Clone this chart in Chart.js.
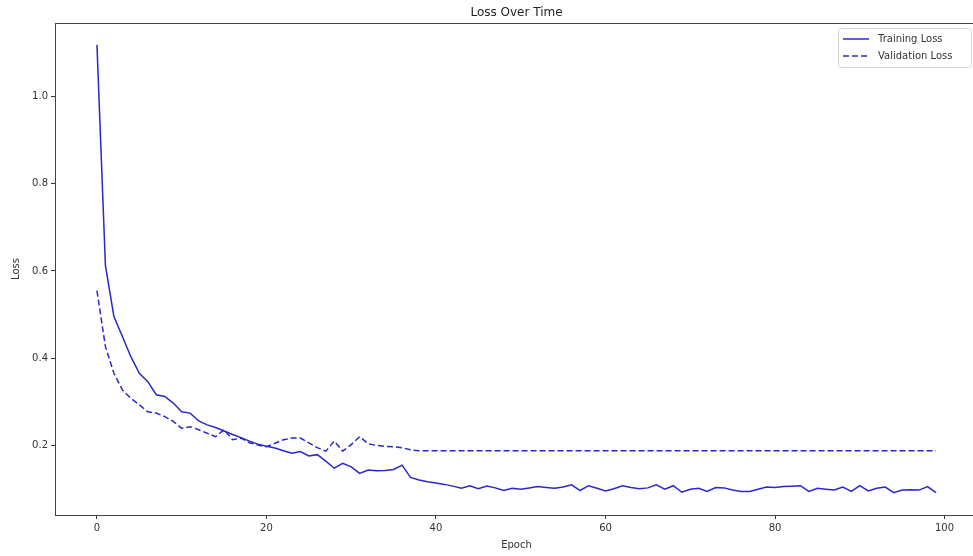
<!DOCTYPE html>
<html>
<head>
<meta charset="utf-8">
<script src="https://cdn.jsdelivr.net/npm/chart.js@4/dist/chart.umd.min.js"></script>
<style>
  html, body { margin: 0; padding: 0; background: #fff; overflow: hidden; }
  #wrap { width: 973px; height: 556px; overflow: hidden; }
</style>
</head>
<body>
<div id="wrap"><canvas id="chart" width="990" height="556"></canvas></div>
<script>
// values
const chartTitle = 'Loss Over Time';
const xTitle = 'Epoch';
const yTitle = 'Loss';
const seriesNames = ['Training Loss', 'Validation Loss'];

const trainLoss = [
  1.117, 0.612, 0.496, 0.450, 0.404, 0.366, 0.347, 0.317, 0.313, 0.298,
  0.278, 0.275, 0.257, 0.248, 0.242, 0.234, 0.226, 0.219, 0.211, 0.204,
  0.199, 0.195, 0.189, 0.183, 0.187, 0.177, 0.180, 0.165, 0.149, 0.160,
  0.152, 0.137, 0.145, 0.143, 0.144, 0.146, 0.156, 0.128, 0.122, 0.118,
  0.115, 0.112, 0.108, 0.103, 0.109, 0.102, 0.108, 0.104, 0.098, 0.103,
  0.101, 0.104, 0.107, 0.105, 0.103, 0.106, 0.111, 0.098, 0.109, 0.103,
  0.097, 0.102, 0.109, 0.105, 0.102, 0.104, 0.111, 0.101, 0.109, 0.094,
  0.101, 0.103, 0.096, 0.105, 0.104, 0.099, 0.096, 0.096, 0.101, 0.106,
  0.105, 0.107, 0.108, 0.109, 0.096, 0.103, 0.101, 0.099, 0.106, 0.096,
  0.109, 0.097, 0.103, 0.106, 0.093, 0.099, 0.100, 0.099, 0.107, 0.093
];

const valLoss = [
  0.555, 0.427, 0.366, 0.328, 0.309, 0.294, 0.278, 0.275, 0.267, 0.256,
  0.240, 0.244, 0.237, 0.229, 0.221, 0.237, 0.214, 0.218, 0.207, 0.202,
  0.198, 0.206, 0.214, 0.218, 0.218, 0.207, 0.196, 0.188, 0.211, 0.188,
  0.203, 0.221, 0.205, 0.201, 0.199, 0.198, 0.196, 0.191, 0.189, 0.189,
  0.189, 0.189, 0.189, 0.189, 0.189, 0.189, 0.189, 0.189, 0.189, 0.189,
  0.189, 0.189, 0.189, 0.189, 0.189, 0.189, 0.189, 0.189, 0.189, 0.189,
  0.189, 0.189, 0.189, 0.189, 0.189, 0.189, 0.189, 0.189, 0.189, 0.189,
  0.189, 0.189, 0.189, 0.189, 0.189, 0.189, 0.189, 0.189, 0.189, 0.189,
  0.189, 0.189, 0.189, 0.189, 0.189, 0.189, 0.189, 0.189, 0.189, 0.189,
  0.189, 0.189, 0.189, 0.189, 0.189, 0.189, 0.189, 0.189, 0.189, 0.189
];

const epochs = trainLoss.map((v, i) => i);

const lineColor = 'rgb(40, 40, 205)';
const textColor = '#333';
const font = "'DejaVu Sans', sans-serif";

function toPoints(values) {
  return values.map((v, i) => ({ x: epochs[i], y: v }));
}

// matplotlib style frame, title and legend
const mplLook = {
  id: 'mplLook',
  afterDraw(chart) {
    const ctx = chart.ctx;
    const a = chart.chartArea;
    ctx.save();
    ctx.strokeStyle = '#444';
    ctx.lineWidth = 1;
    ctx.strokeRect(a.left + 0.5, a.top + 0.5, a.right - a.left, a.bottom - a.top);

    ctx.fillStyle = '#222';
    ctx.font = '12px ' + font;
    ctx.textAlign = 'center';
    ctx.textBaseline = 'middle';
    ctx.fillText(chartTitle, (a.left + a.right) / 2, 13);

    // legend box, upper right inside the axes
    const bx = 838, by = 28, bw = 133, bh = 39;
    ctx.fillStyle = 'rgba(255,255,255,0.9)';
    ctx.strokeStyle = '#d4d4d4';
    ctx.beginPath();
    ctx.roundRect(bx + 0.5, by + 0.5, bw, bh, 3);
    ctx.fill();
    ctx.stroke();

    ctx.font = '10px ' + font;
    ctx.textAlign = 'left';
    chart.data.datasets.forEach((ds, i) => {
      const y = 39 + i * 17;
      ctx.strokeStyle = ds.borderColor;
      ctx.lineWidth = ds.borderWidth;
      ctx.setLineDash(ds.borderDash || []);
      ctx.beginPath();
      ctx.moveTo(843, y);
      ctx.lineTo(869, y);
      ctx.stroke();
      ctx.setLineDash([]);
      ctx.fillStyle = textColor;
      ctx.fillText(ds.label, 878, y);
    });
    ctx.restore();
  }
};

new Chart(document.getElementById('chart'), {
  type: 'line',
  data: {
    datasets: [
      {
        label: seriesNames[0],
        data: toPoints(trainLoss),
        borderColor: lineColor,
        borderWidth: 1.5,
        pointRadius: 0,
        tension: 0,
        fill: false
      },
      {
        label: seriesNames[1],
        data: toPoints(valLoss),
        borderColor: lineColor,
        borderWidth: 1.5,
        borderDash: [6, 3],
        pointRadius: 0,
        tension: 0,
        fill: false
      }
    ]
  },
  options: {
    responsive: false,
    animation: false,
    layout: { padding: { top: 23, right: 12, left: 0, bottom: 0 } },
    plugins: {
      legend: { display: false },
      title: { display: false },
      tooltip: { enabled: false }
    },
    scales: {
      x: {
        type: 'linear',
        min: -4.95,
        max: 103.95,
        afterFit: (scale) => { scale.height = 41; },
        grid: { drawOnChartArea: false, tickLength: 4, color: '#333' },
        border: { display: true, color: '#444' },
        ticks: {
          stepSize: 20,
          includeBounds: false,
          padding: 3,
          color: textColor,
          font: { family: font, size: 10 },
          callback: (v) => String(v)
        },
        title: {
          display: true,
          text: xTitle,
          color: textColor,
          font: { family: font, size: 10 },
          padding: { top: 0, bottom: 5 }
        }
      },
      y: {
        min: 0.042,
        max: 1.167,
        afterFit: (scale) => { scale.width = 55; },
        grid: { drawOnChartArea: false, tickLength: 4, color: '#333' },
        border: { display: true, color: '#444' },
        ticks: {
          stepSize: 0.2,
          includeBounds: false,
          padding: 3,
          color: textColor,
          font: { family: font, size: 10 },
          callback: (v) => v.toFixed(1)
        },
        title: {
          display: true,
          text: yTitle,
          color: textColor,
          font: { family: font, size: 10 },
          padding: { top: 10, bottom: 4 }
        }
      }
    }
  },
  plugins: [mplLook]
});
</script>
</body>
</html>
